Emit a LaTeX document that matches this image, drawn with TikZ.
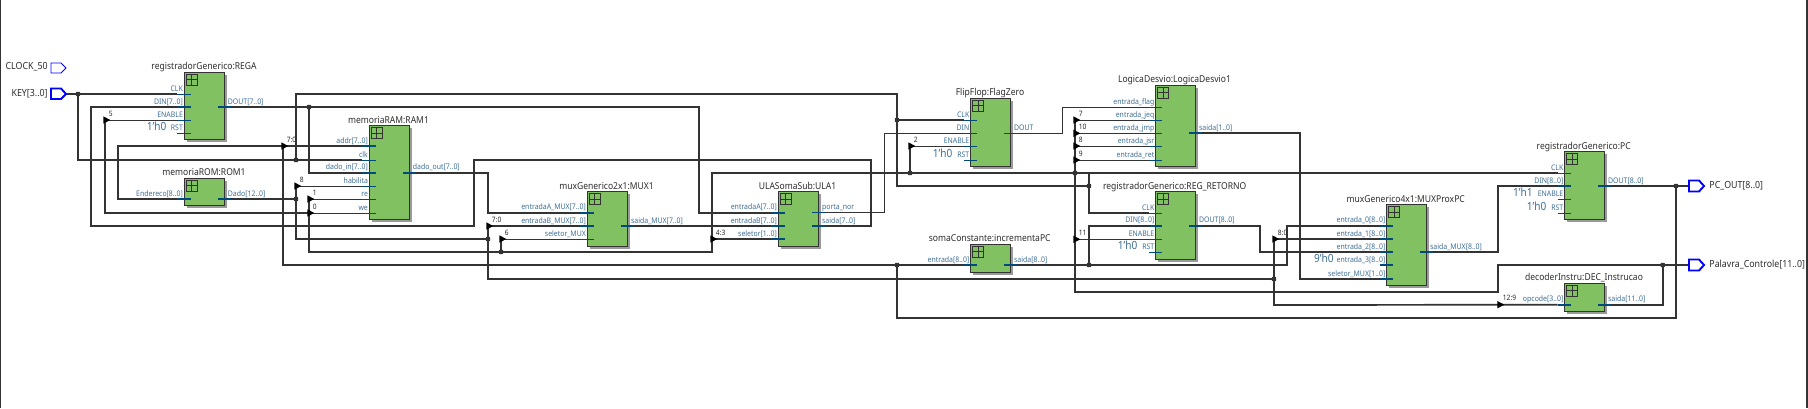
\documentclass[tikz,border=0pt]{standalone}
\usepackage{fontspec}
\setmainfont[FakeStretch=0.9]{Noto Sans}
\definecolor{wirec}{HTML}{333333}
\definecolor{boxg}{HTML}{82C162}
\definecolor{shad}{HTML}{9A9A9A}
\definecolor{stubc}{HTML}{004A7C}
\definecolor{labc}{HTML}{3E6F96}
\definecolor{pinb}{HTML}{0000FF}
\tikzset{
  x=0.5pt,y=-0.5pt,
  bus/.style={draw=wirec,line width=0.85pt,line join=miter},
  sig/.style={draw=wirec,line width=0.42pt},
  bstub/.style={draw=stubc,line width=0.85pt},
  tstub/.style={draw=stubc,line width=0.42pt},
  blockbox/.style={draw=wirec,fill=boxg,line width=0.45pt,inner sep=0pt,outer sep=0pt},
  blocktitle/.style={anchor=base,inner sep=0pt,text=black!82,font=\fontsize{4.75}{5}\selectfont},
  portlab/.style={inner sep=0pt,text=labc,font=\fontsize{3.85}{4.5}\selectfont},
  constlab/.style={inner sep=0pt,anchor=base east,text=labc,font=\fontsize{5.6}{6}\selectfont},
  taplab/.style={inner sep=0pt,anchor=base west,text=black!85,font=\fontsize{3.7}{4.5}\selectfont},
  pinlab/.style={inner sep=0pt,text=black!82,font=\fontsize{4.9}{5.5}\selectfont},
  junc/.style={rectangle,rounded corners=0.4pt,fill=wirec,inner sep=0pt,minimum size=2.2pt},
  tapmark/.style={fill=black},
}
% name, x1, y1, x2, y2, title, title centre x
\newcommand\blk[7]{%
  \fill[shad] ({#2+2.5},{#3+2.5}) rectangle ({#4+2.5},{#5+2.5});
  \node[blockbox,minimum width={(#4-#2)*0.5pt},minimum height={(#5-#3)*0.5pt}] (#1) at ({(#2+#4)/2},{(#3+#5)/2}) {};
  \draw[wirec,line width=0.5pt,fill=boxg] ({#2+2},{#3+2}) rectangle ({#2+13},{#3+13});
  \draw[wirec,line width=0.5pt] ({#2+7.5},{#3+2}) -- ({#2+7.5},{#3+13}) ({#2+2},{#3+7.5}) -- ({#2+13},{#3+7.5});
  \node[blocktitle] (#1-t) at (#7,{#3-2.7}) {#6};
}
% coordinate name, box left x, y, label, stub style
\newcommand\inp[5]{%
  \coordinate (#1) at ({#2-7},#3);
  \draw[#5] (#1) -- ++(13.5,0);
  \node[portlab,anchor=base east] (#1-l) at ({#2-1},{#3-2.8}) {#4};
}
% coordinate name, box right x, y, label, stub style
\newcommand\outp[5]{%
  \coordinate (#1) at ({#2+6},#3);
  \draw[#5] (#1) -- ++(-13,0);
  \node[portlab,anchor=base west] (#1-l) at ({#2+3},{#3-2.8}) {#4};
}
% name, x, y, label : bit tap
\newcommand\tap[4]{%
  \coordinate (#1) at (#2,#3);
  \fill[tapmark] ({#2-1.7},{#3-3.7}) -- ({#2+5.3},#3) -- ({#2-1.7},{#3+3.7}) -- cycle;
  \node[taplab] (#1-l) at ({#2+3.5},{#3-4}) {#4};
}
\newcommand\jn[3]{\node[junc] (#1) at (#2,#3) {};}
\begin{document}
\begin{tikzpicture}
\useasboundingbox (0,0) rectangle (1808,408);
\fill[white] (0,0) rectangle (1808,408);
\draw[wirec,line width=0.6pt] (0.6,0) -- (0.6,408);
\draw[wirec,line width=0.9pt] (1807,0) -- (1807,408);
\coordinate (key) at (66,94);
\coordinate (pcout) at (1689,186);
\coordinate (palavra) at (1689,265);
% port coordinates are needed first: wires are painted under the blocks
\foreach \n/\x/\y in {rega-clk/177/94,rega-din/177/107,rega-en/177/120,ram-addr/362/146,ram-clk/362/160,ram-din/362/172.7,ram-hab/362/186,ram-re/362/199,ram-we/362/213,rom-end/177/199,
 mux-a/580.3/212.7,mux-b/580.3/226,mux-s/580.3/239,ula-a/771.3/212.7,ula-b/771.3/226,ula-s/771.3/239,flag-clk/963.7/120,flag-din/963.7/133.3,flag-en/963.7/146,
 log-flag/1148.7/107.3,log-jeq/1148.7/120,log-jmp/1148.7/133.3,log-jsr/1148.7/146,log-ret/1148.7/160,reg-clk/1148.7/213,reg-din/1148.7/225.7,reg-en/1148.7/239.3,
 soma-in/963.7/265,mp-0/1379.7/225.7,mp-1/1379.7/239,mp-2/1379.7/252.3,mp-s/1379.7/279,pc-clk/1557.7/173,pc-din/1557.7/186,dec-op/1557.7/304.7,
 rega-dout/230.5/107,rom-dado/230.5/199,ram-dout/415.5/172.7,mux-out/633.7/226,ula-nor/824.7/212.7,ula-sai/824.7/226,flag-out/1016.7/133.3,log-out/1201.7/133.3,reg-out/1201.7/225.7,soma-out/1016.7/265,mp-out/1432.7/252.3,pc-out/1610.7/186,dec-out/1610.7/304.7}
  {\coordinate (\n) at (\x,\y);}
% ---- bus wires
\draw[bus] (key) -- (rega-clk);
\draw[bus] (78,94) |- (ram-clk);
\draw[bus] (296,160) -- (296,94) -- (897,94) -- (897,186) -- (1089,186);
\draw[bus] (897,120) -- (flag-clk);
\draw[bus] (1089,173) -- (1089,213) -- (reg-clk);
\draw[bus] (309,199) -- (309,252) -- (712,252) -- (712,173) -- (pc-clk);
\draw[bus] (rega-din) -- (91,107) -- (91,226) -- (474,226) -- (474,160) -- (871,160) -- (871,226) -- (ula-sai);
\draw[bus] (rega-dout) -- (699,107) -- (699,212.7) -- (ula-a);
\draw[bus] (309,107) |- (ram-din);
\draw[bus] (105,120) -- (105,213) -- (309,213);
\draw[bus] (rom-end) -- (118,199) -- (118,146) -- (ram-addr);
\draw[bus] (283,146) -- (283,265) -- (soma-in);
\draw[bus] (897,265) -- (897,318) -- (1676,318) -- (1676,186);
\draw[bus] (rom-dado) -- (296,199);
\draw[bus] (296,186) -- (296,239) -- (488,239);
\draw[bus] (488,226) -- (488,279) -- (1274,279);
\draw[bus] (488,226) -- (mux-b);
\draw[bus] (1274,239) -- (1274,305) -- (dec-op);
\draw[bus] (1274,239) -- (mp-1);
\draw[bus] (ram-dout) -- (488,172.7) -- (488,212.7) -- (mux-a);
\draw[bus] (501,252) -- (501,239);
\draw[bus] (mux-out) -- (ula-b);
\draw[bus] (712,239) -- (ula-s);
\draw[bus] (910,173) -- (910,146);
\draw[bus] (1075,120) -- (1075,291.7) -- (1498,291.7) -- (1498,265) -- (palavra);
\draw[bus] (1662.7,265) -- (1662.7,304.7) -- (dec-out);
\draw[bus] (log-out) -- (1300,133.3) -- (1300,279) -- (mp-s);
\draw[bus] (soma-out) -- (1287,265) -- (1287,225.7) -- (mp-0);
\draw[bus] (1089,265) -- (1089,225.7) -- (reg-din);
\draw[bus] (reg-out) -- (1260,225.7) -- (1260,252.3) -- (mp-2);
\draw[bus] (mp-out) -- (1498,252.3) -- (1498,186) -- (pc-din);
\draw[bus] (pc-out) -- (pcout);
% ---- single wires
\draw[sig] (105,120) -- (rega-en);
\draw[sig] (296,186) -- (ram-hab);
\draw[sig] (309,199) -- (ram-re);
\draw[sig] (309,213) -- (ram-we);
\draw[sig] (501,239) -- (mux-s);
\draw[sig] (ula-nor) -- (884.3,212.7) -- (884.3,133.3) -- (flag-din);
\draw[sig] (flag-out) -- (1062,133.3) -- (1062,107.3) -- (log-flag);
\draw[sig] (910,146) -- (flag-en);
\draw[sig] (1075,120) -- (log-jeq);
\draw[sig] (1075,133.3) -- (log-jmp);
\draw[sig] (1075,146) -- (log-jsr);
\draw[sig] (1075,160) -- (log-ret);
\draw[sig] (1075,239.3) -- (reg-en);
% ---- junctions
\jn{j1}{78}{94}\jn{j2}{296}{160}\jn{j3}{309}{107}\jn{j4}{296}{199}\jn{j5}{897}{120}\jn{j6}{1089}{186}
\jn{j7}{488}{239}\jn{j8}{501}{252}\jn{j9}{897}{265}\jn{j10}{910}{173}\jn{j11}{1075}{173}\jn{j12}{1089}{265}
\jn{j13}{1274}{279}\jn{j14}{1676}{186}\jn{j15}{1662.7}{265}
% ---- taps
\tap{t5}{105}{120}{5}
\tap{t70a}{283}{146}{7:0}
\tap{t8}{296}{186}{8}
\tap{t1}{309}{199}{1}
\tap{t0}{309}{213}{0}
\tap{t70b}{488}{226}{7:0}
\tap{t6}{501}{239}{6}
\tap{t43}{712}{239}{4:3}
\tap{t2}{910}{146}{2}
\tap{t7}{1075}{120}{7}
\tap{t10}{1075}{133.3}{10}
\tap{t8b}{1075}{146}{8}
\tap{t9}{1075}{160}{9}
\tap{t11}{1075}{239.3}{11}
\tap{t80}{1274}{239}{8:0}
\tap{t129}{1499}{304.7}{12:9}
% ---- blocks
\blk{rega}{184.3}{72}{224.5}{139}{registradorGenerico:REGA}{204}
\inp{rega-clk}{184.3}{94}{CLK}{tstub}
\inp{rega-din}{184.3}{107}{DIN[7..0]}{bstub}
\inp{rega-en}{184.3}{120}{ENABLE}{tstub}
\inp{rega-rst}{184.3}{133}{RST}{tstub}
\node[constlab] (c1) at (166.7,130.5) {1'h0};
\outp{rega-dout}{224.5}{107}{DOUT[7..0]}{bstub}

\blk{rom}{184.3}{178.3}{224.5}{205.7}{memoriaROM:ROM1}{204}
\inp{rom-end}{184.3}{199}{Endereco[8..0]}{bstub}
\outp{rom-dado}{224.5}{199}{Dado[12..0]}{bstub}

\blk{ram}{369.3}{125.7}{409.5}{219.3}{memoriaRAM:RAM1}{388.5}
\inp{ram-addr}{369.3}{146}{addr[7..0]}{bstub}
\inp{ram-clk}{369.3}{160}{clk}{tstub}
\inp{ram-din}{369.3}{172.7}{dado\_in[7..0]}{bstub}
\inp{ram-hab}{369.3}{186}{habilita}{tstub}
\inp{ram-re}{369.3}{199}{re}{tstub}
\inp{ram-we}{369.3}{213}{we}{tstub}
\outp{ram-dout}{409.5}{172.7}{dado\_out[7..0]}{bstub}

\blk{mux}{587.3}{191.7}{627.7}{246.7}{muxGenerico2x1:MUX1}{606.5}
\inp{mux-a}{587.3}{212.7}{entradaA\_MUX[7..0]}{bstub}
\inp{mux-b}{587.3}{226}{entradaB\_MUX[7..0]}{bstub}
\inp{mux-s}{587.3}{239}{seletor\_MUX}{tstub}
\outp{mux-out}{627.7}{226}{saida\_MUX[7..0]}{bstub}

\blk{ula}{778.3}{191.7}{818.7}{246.7}{ULASomaSub:ULA1}{797.5}
\inp{ula-a}{778.3}{212.7}{entradaA[7..0]}{bstub}
\inp{ula-b}{778.3}{226}{entradaB[7..0]}{bstub}
\inp{ula-s}{778.3}{239}{seletor[1..0]}{bstub}
\outp{ula-nor}{818.7}{212.7}{porta\_nor}{tstub}
\outp{ula-sai}{818.7}{226}{saida[7..0]}{bstub}

\blk{flag}{970.7}{98.3}{1010.7}{166.7}{FlipFlop:FlagZero}{990}
\inp{flag-clk}{970.7}{120}{CLK}{tstub}
\inp{flag-din}{970.7}{133.3}{DIN}{tstub}
\inp{flag-en}{970.7}{146}{ENABLE}{tstub}
\inp{flag-rst}{970.7}{160}{RST}{tstub}
\node[constlab] (c2) at (952.7,157) {1'h0};
\outp{flag-out}{1010.7}{133.3}{DOUT}{tstub}

\blk{soma}{970.7}{244.3}{1010.7}{272.3}{somaConstante:incrementaPC}{989.7}
\inp{soma-in}{970.7}{265}{entrada[8..0]}{bstub}
\outp{soma-out}{1010.7}{265}{saida[8..0]}{bstub}

\blk{log}{1155.7}{85.3}{1195.7}{166.7}{LogicaDesvio:LogicaDesvio1}{1174.5}
\inp{log-flag}{1155.7}{107.3}{entrada\_flag}{tstub}
\inp{log-jeq}{1155.7}{120}{entrada\_jeq}{tstub}
\inp{log-jmp}{1155.7}{133.3}{entrada\_jmp}{tstub}
\inp{log-jsr}{1155.7}{146}{entrada\_jsr}{tstub}
\inp{log-ret}{1155.7}{160}{entrada\_ret}{tstub}
\outp{log-out}{1195.7}{133.3}{saida[1..0]}{bstub}

\blk{reg}{1155.7}{191.7}{1195.7}{259.3}{registradorGenerico:REG\_RETORNO}{1174.7}
\inp{reg-clk}{1155.7}{213}{CLK}{tstub}
\inp{reg-din}{1155.7}{225.7}{DIN[8..0]}{bstub}
\inp{reg-en}{1155.7}{239.3}{ENABLE}{tstub}
\inp{reg-rst}{1155.7}{252}{RST}{tstub}
\node[constlab] (c3) at (1137.7,249.5) {1'h0};
\outp{reg-out}{1195.7}{225.7}{DOUT[8..0]}{bstub}

\blk{mp}{1386.7}{204.7}{1426.7}{285.7}{muxGenerico4x1:MUXProxPC}{1405.7}
\inp{mp-0}{1386.7}{225.7}{entrada\_0[8..0]}{bstub}
\inp{mp-1}{1386.7}{239}{entrada\_1[8..0]}{bstub}
\inp{mp-2}{1386.7}{252.3}{entrada\_2[8..0]}{bstub}
\inp{mp-3}{1386.7}{265}{entrada\_3[8..0]}{bstub}
\inp{mp-s}{1386.7}{279}{seletor\_MUX[1..0]}{bstub}
\node[constlab] (c4) at (1334,262.5) {9'h0};
\outp{mp-out}{1426.7}{252.3}{saida\_MUX[8..0]}{bstub}

\blk{pc}{1564.7}{151.7}{1604.7}{219.3}{registradorGenerico:PC}{1583.7}
\inp{pc-clk}{1564.7}{173}{CLK}{tstub}
\inp{pc-din}{1564.7}{186}{DIN[8..0]}{bstub}
\inp{pc-en}{1564.7}{199}{ENABLE}{tstub}
\inp{pc-rst}{1564.7}{213}{RST}{tstub}
\node[constlab] (c5) at (1533,196.5) {1'h1};
\node[constlab] (c6) at (1546.7,210.5) {1'h0};
\outp{pc-out}{1604.7}{186}{DOUT[8..0]}{bstub}

\blk{dec}{1564.7}{283.3}{1604.7}{311.7}{decoderInstru:DEC\_Instrucao}{1584}
\inp{dec-op}{1564.7}{304.7}{opcode[3..0]}{bstub}
\outp{dec-out}{1604.7}{304.7}{saida[11..0]}{bstub}
% ---- pins
\draw[pinb,line width=0.45pt,fill=white] (51,63) -- (61,63) -- (66,68) -- (61,73) -- (51,73) -- cycle;
\node[pinlab,anchor=base east] (clockl) at (48,69.5) {CLOCK\_50};
\draw[pinb,line width=0.95pt,fill=white] (51,88.5) -- (61,88.5) -- (66,94) -- (61,99) -- (51,99) -- cycle;
\node[pinlab,anchor=base east] (keyl) at (48,96.5) {KEY[3..0]};
\draw[pinb,line width=0.95pt,fill=white] (pcout) ++(0,-5.5) -- ++(10,0) -- ++(5,5.5) -- ++(-5,5.5) -- ++(-10,0) -- cycle;
\node[pinlab,anchor=base west] (pcl) at (1709,188.5) {PC\_OUT[8..0]};
\draw[pinb,line width=0.95pt,fill=white] (palavra) ++(0,-5.5) -- ++(10,0) -- ++(5,5.5) -- ++(-5,5.5) -- ++(-10,0) -- cycle;
\node[pinlab,anchor=base west] (pall) at (1709,267.5) {Palavra\_Controle[11..0]};
\end{tikzpicture}
\end{document}
